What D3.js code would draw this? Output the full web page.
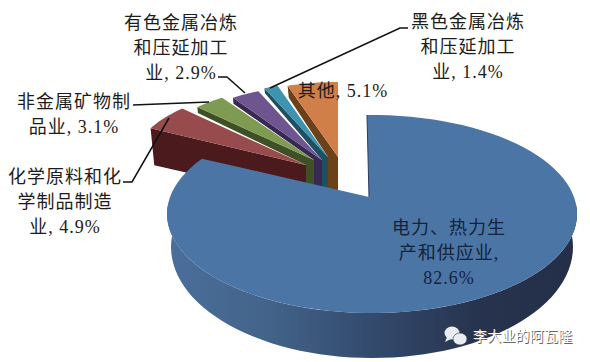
<!DOCTYPE html>
<html>
<head>
<meta charset="utf-8">
<script src="https://cdnjs.cloudflare.com/ajax/libs/d3/7.8.5/d3.min.js"></script>
<style>
  html, body { margin: 0; padding: 0; background: #fff; }
  text { font-family: "Liberation Serif", "Noto Sans CJK SC", serif; font-size: 18px; letter-spacing: 1px; fill: #1c1c1c; }
</style>
</head>
<body>
<div id="chart"></div>
<script>
// Values, clockwise from 12 o'clock
const categories = ['电力、热力生产和供应业', '化学原料和化学制品制造业', '非金属矿物制品业', '有色金属冶炼和压延加工业', '黑色金属冶炼和压延加工业', '其他'];
const shares = [82.6, 4.9, 3.1, 2.9, 1.4, 5.1];
const labelLines = [
  ['电力、热力生', '产和供应业,', '82.6%'],
  ['化学原料和化', '学制品制造', '业, 4.9%'],
  ['非金属矿物制', '品业, 3.1%'],
  ['有色金属冶炼', '和压延加工', '业, 2.9%'],
  ['黑色金属冶炼', '和压延加工', '业, 1.4%'],
  ['其他, 5.1%']
];

const width = 590, height = 362;
const topColors = ['#4a75a5', '#984b4d', '#7f9b52', '#6f5590', '#3e93ae', '#d17f48'];
const wallColors = ['#2c3c5c', '#4a1a1c', '#3f5026', '#382952', '#1d5063', '#6c4019'];

// Exploded wedge placement (perspective pie, so each wedge has its own apex and radii)
const wedgeRx = [0, 175, 165, 160, 160, 160];
const wedgeRy = [0, 80, 75, 75, 75, 75];
const apexes = [null, [306, 165], [314, 160], [322, 160], [328, 157], [338, 157]];
const farDepth = [0, 37, 6, 6, 5, 12];
const apexDepth = 35;

// The big slice: top and bottom ellipse of the drum
const big = { apex: [369, 197], cx: 372, cy: 214, rx: 205, ry: 99, bcx: 372, bcy: 247, brx: 201, bry: 111, t0: -1.4, t1: 304 };

// Label placement: centre x and baseline of each first line
const labelPos = [[449, 234], [65, 183], [74, 108], [181, 29], [468, 28], [343, 97]];
const lineStep = 25;
const leaders = [
  null,
  [[123, 182], [132, 182], [169, 118]],
  [[133, 105], [209, 102]],
  [[218, 77], [227, 77], [245, 93]],
  [[408, 28], [400, 28], [270, 88]],
  null
];

const svg = d3.select('#chart').append('svg')
  .attr('width', width)
  .attr('height', height)
  .style('display', 'block');

const pie = d3.pie().sort(null).startAngle(0).endAngle(2 * Math.PI);
const slices = pie(shares);
const line = d3.line();
const deg = Math.PI / 180;

// Gradient on the drum wall
const grad = svg.append('defs').append('linearGradient')
  .attr('id', 'wall').attr('x1', 0).attr('x2', 1).attr('y1', 0).attr('y2', 0);
grad.append('stop').attr('offset', '0%').attr('stop-color', '#4a6f9b');
grad.append('stop').attr('offset', '25%').attr('stop-color', '#436389');
grad.append('stop').attr('offset', '50%').attr('stop-color', '#334a6d');
grad.append('stop').attr('offset', '75%').attr('stop-color', '#28344f');
grad.append('stop').attr('offset', '100%').attr('stop-color', '#232e47');

function wedgePoint(i, angle) {
  const apex = apexes[i];
  return [apex[0] + wedgeRx[i] * Math.sin(angle), apex[1] - wedgeRy[i] * Math.cos(angle)];
}

// Small wedges, left to right
slices.slice(1).forEach((s, k) => {
  const i = k + 1;
  const apex = apexes[i];
  const left = wedgePoint(i, s.startAngle);
  const rim = d3.range(0, 1.001, 0.1).map(f => wedgePoint(i, s.startAngle + f * (s.endAngle - s.startAngle)));
  const leftBottom = [left[0] + farDepth[i] * 0.1, left[1] + farDepth[i]];

  // The wall's lower edge runs to the neighbour's apex, then drops as a vertical band
  const inner = i > 1
    ? [[apexes[i - 1][0], apexes[i - 1][1]], [apexes[i - 1][0], apex[1] + apexDepth]]
    : [];
  svg.append('path')
    .attr('d', line([left, leftBottom, ...inner, [apex[0], apex[1] + apexDepth], apex]) + 'Z')
    .attr('fill', wallColors[i]);

  svg.append('path')
    .attr('d', line([apex, ...rim]) + 'Z')
    .attr('fill', topColors[i]);
});

// Big slice: wall first, then the top face
const bigSlice = slices[0];
const toEllipse = a => big.t0 + (a / deg) / (bigSlice.endAngle / deg) * (big.t1 - big.t0);
const topPoint = t => [big.cx + big.rx * Math.sin(t * deg), big.cy - big.ry * Math.cos(t * deg)];
const bottomPoint = t => [big.bcx + big.brx * Math.sin(t * deg), big.bcy - big.bry * Math.cos(t * deg)];

const frontTop = d3.range(84, 277, 3).map(topPoint);
const frontBottom = d3.range(276, 83, -3).map(bottomPoint);
svg.append('path')
  .attr('d', line([...frontTop, ...frontBottom]) + 'Z')
  .attr('fill', 'url(#wall)');

const faceRim = d3.range(0, 1.0001, 0.01).map(f => topPoint(toEllipse(f * bigSlice.endAngle)));
svg.append('path')
  .attr('d', line([big.apex, ...faceRim]) + 'Z')
  .attr('fill', topColors[0]);

// Thin dark edge along the cut on the right of the gap
svg.append('path')
  .attr('d', line([topPoint(big.t0), big.apex]))
  .attr('stroke', wallColors[0])
  .attr('stroke-width', 1)
  .attr('fill', 'none');

// Leader lines
leaders.forEach(pts => {
  if (!pts) return;
  svg.append('path')
    .attr('d', line(pts))
    .attr('fill', 'none')
    .attr('stroke', '#111')
    .attr('stroke-width', 1.5);
});

// Labels
labelLines.forEach((lines, i) => {
  const [x, y] = labelPos[i];
  lines.forEach((t, j) => {
    svg.append('text')
      .attr('x', x)
      .attr('y', y + j * lineStep)
      .attr('text-anchor', 'middle')
      .style('fill', i === 0 ? '#14233a' : '#1c1c1c')
      .text(t);
  });
});

// Watermark
const mark = svg.append('g').attr('fill', '#e9edf0');
mark.append('ellipse').attr('cx', 452).attr('cy', 333).attr('rx', 7.5).attr('ry', 6.5);
mark.append('path').attr('d', line([[447, 337], [445, 342], [451, 339]]));
mark.append('ellipse').attr('cx', 460).attr('cy', 339).attr('rx', 7).attr('ry', 6).attr('stroke', '#2a3652').attr('stroke-width', 0.6);
svg.append('text').attr('x', 474).attr('y', 342)
  .style('font-family', '"Noto Sans CJK SC"').style('font-size', '14px').style('letter-spacing', '0.2px')
  .style('fill', '#666').text('李大业的阿瓦隆');
svg.append('text').attr('x', 473).attr('y', 341)
  .style('font-family', '"Noto Sans CJK SC"').style('font-size', '14px').style('letter-spacing', '0.2px')
  .style('fill', '#fff').text('李大业的阿瓦隆');
</script>
</body>
</html>
